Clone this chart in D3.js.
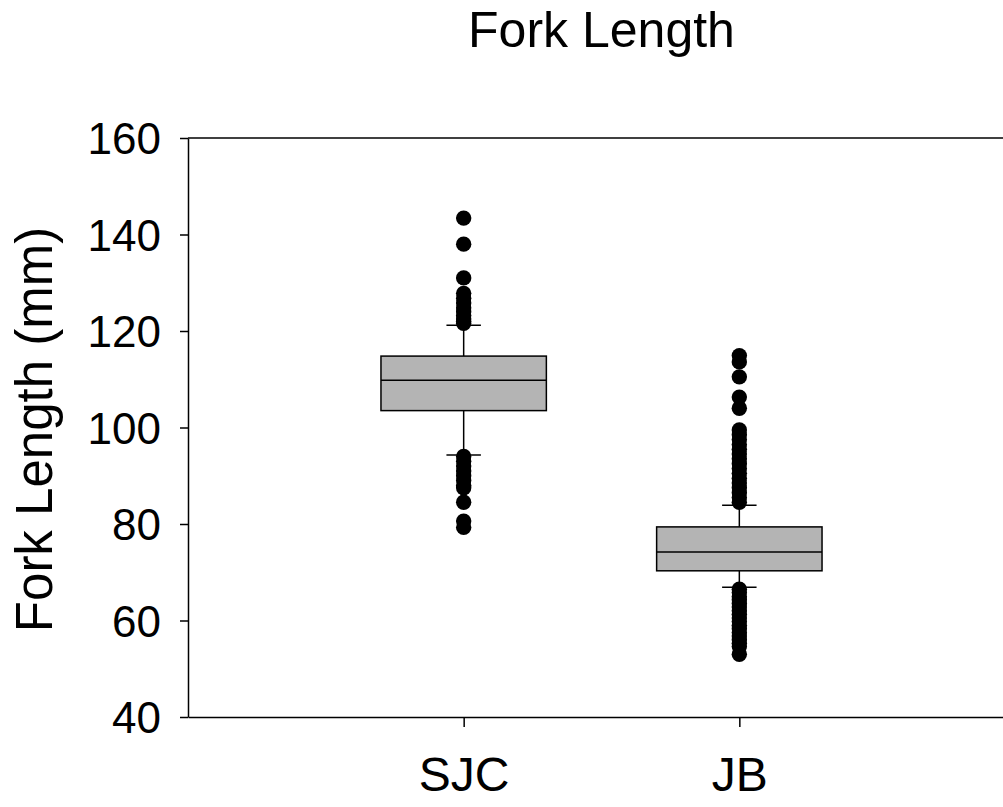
<!DOCTYPE html>
<html>
<head>
<meta charset="utf-8">
<script src="https://cdn.jsdelivr.net/npm/d3@7"></script>
<style>
  body { margin: 0; background: #fff; }
  text { font-family: "Liberation Sans", Arial, sans-serif; fill: #000; }
</style>
</head>
<body>
<div id="chart"></div>
<script>
const categories = ['SJC', 'JB'];
const q1 = [103.5, 70.3];
const medians = [109.8, 74.2];
const q3 = [114.8, 79.4];
const whiskerLow = [94.3, 66.9];
const whiskerHigh = [121.2, 83.9];
const outliersSJC = [143.4, 138.0, 131.0, 127.8, 126.8, 125.8, 124.8, 124.0, 123.2, 122.5, 122.0, 121.6,
                     94.0, 93.0, 92.0, 91.0, 90.0, 89.0, 88.0, 87.5, 84.5, 80.6, 79.3];
const outliersJB = [114.9, 113.6, 110.5, 106.3, 104.0, 99.5, 98.5, 97.5, 96.5, 95.5, 94.5, 93.5, 92.5,
                    91.5, 90.5, 89.5, 88.5, 87.5, 86.5, 85.5, 84.5,
                    66.5, 65.8, 65.0, 64.3, 63.5, 62.8, 62.0, 61.3, 60.5, 59.8, 59.0, 58.3, 57.5,
                    56.8, 56.0, 55.3, 54.6, 53.0];
const outliers = [outliersSJC, outliersJB];
const yTicks = [40, 60, 80, 100, 120, 140, 160];

const w = 1003;
const h = 807;
const plotLeft = 188, plotRight = 1015, plotTop = 138, plotBottom = 717;

const svg = d3.select('#chart')
  .append('svg')
  .attr('width', w)
  .attr('height', h);

const xScale = d3.scaleLinear()
  .domain([0, 3])
  .range([plotLeft, plotRight]);

const yScale = d3.scaleLinear()
  .domain([40, 160])
  .range([plotBottom, plotTop]);

const boxW = xScale(0.6) - xScale(0);
const capW = xScale(0.125) - xScale(0);

// top frame line (runs off the right edge like the bottom one)
svg.append('line')
  .attr('x1', plotLeft).attr('x2', plotRight)
  .attr('y1', plotTop).attr('y2', plotTop)
  .attr('stroke', '#000').attr('stroke-width', 1.5);

const yAxis = d3.axisLeft(yScale)
  .tickValues(yTicks)
  .tickSize(8)
  .tickSizeOuter(0)
  .tickPadding(19)
  .tickFormat(d3.format('d'));

svg.append('g')
  .attr('transform', 'translate(' + plotLeft + ',0)')
  .call(yAxis)
  .call(g => g.select('.domain').attr('stroke-width', 1.5))
  .call(g => g.selectAll('.tick line').attr('stroke-width', 1.5))
  .call(g => g.selectAll('text').style('font-size', '44px').attr('dy', '0.36em'));

const xAxis = d3.axisBottom(xScale)
  .tickValues([1, 2])
  .tickSize(10)
  .tickSizeOuter(0)
  .tickPadding(30)
  .tickFormat((d, i) => categories[i]);

svg.append('g')
  .attr('transform', 'translate(0,' + plotBottom + ')')
  .call(xAxis)
  .call(g => g.select('.domain').attr('stroke-width', 1.5))
  .call(g => g.selectAll('.tick line').attr('stroke-width', 1.5))
  .call(g => g.selectAll('text').style('font-size', '48px'));

// boxes
categories.forEach((c, i) => {
  const cx = xScale(i + 1);
  const g = svg.append('g');

  g.append('line')
    .attr('x1', cx).attr('x2', cx)
    .attr('y1', yScale(whiskerHigh[i])).attr('y2', yScale(q3[i]))
    .attr('stroke', '#000').attr('stroke-width', 1.5);
  g.append('line')
    .attr('x1', cx).attr('x2', cx)
    .attr('y1', yScale(q1[i])).attr('y2', yScale(whiskerLow[i]))
    .attr('stroke', '#000').attr('stroke-width', 1.5);

  [whiskerHigh[i], whiskerLow[i]].forEach(v => {
    g.append('line')
      .attr('x1', cx - capW / 2).attr('x2', cx + capW / 2)
      .attr('y1', yScale(v)).attr('y2', yScale(v))
      .attr('stroke', '#000').attr('stroke-width', 1.5);
  });

  g.append('rect')
    .attr('x', cx - boxW / 2)
    .attr('y', yScale(q3[i]))
    .attr('width', boxW)
    .attr('height', yScale(q1[i]) - yScale(q3[i]))
    .attr('fill', '#b4b4b4')
    .attr('stroke', '#000')
    .attr('stroke-width', 1.5);

  g.append('line')
    .attr('x1', cx - boxW / 2).attr('x2', cx + boxW / 2)
    .attr('y1', yScale(medians[i])).attr('y2', yScale(medians[i]))
    .attr('stroke', '#000').attr('stroke-width', 1.5);

  g.selectAll('circle')
    .data(outliers[i])
    .enter()
    .append('circle')
    .attr('cx', cx)
    .attr('cy', d => yScale(d))
    .attr('r', 7.7)
    .attr('fill', '#000');
});

svg.append('text')
  .text('Fork Length')
  .attr('x', (plotLeft + plotRight) / 2)
  .attr('y', 47)
  .attr('text-anchor', 'middle')
  .style('font-size', '50px');

svg.append('text')
  .text('Fork Length (mm)')
  .attr('transform', 'translate(52,' + ((plotTop + plotBottom) / 2 + 2) + ') rotate(-90)')
  .attr('text-anchor', 'middle')
  .style('font-size', '51px');
</script>
</body>
</html>
